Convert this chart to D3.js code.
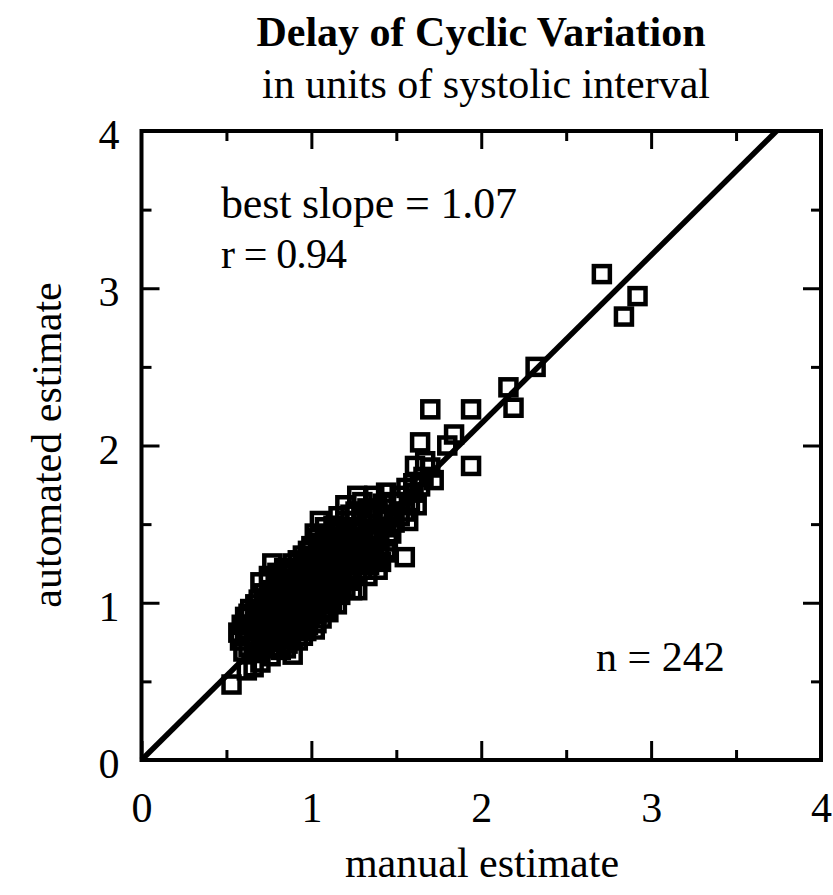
<!DOCTYPE html>
<html>
<head>
<meta charset="utf-8">
<script src="https://cdn.jsdelivr.net/npm/d3@7"></script>
<style>
  body { margin: 0; background: #fff; }
  text { font-family: "Liberation Serif", "Times New Roman", serif; fill: #000; }
</style>
</head>
<body>
<div id="chart"></div>
<script>
// tick values (both axes run 0..4)
const majorTicks = [0, 1, 2, 3, 4];
const minorTicks = [0.5, 1.5, 2.5, 3.5];

const bestSlope = 1.07;
const rValue = 0.94;
const nPoints = 242;

// [manual estimate, automated estimate]
// (the dense middle of the cloud is estimated)
const points = [
  [0.53, 0.48],
  [0.62, 0.57], [0.66, 0.59], [0.70, 0.62],
  [0.60, 0.69], [0.68, 0.68], [0.76, 0.66], [0.82, 0.70], [0.89, 0.67],
  [0.63, 0.72], [0.71, 0.71], [0.78, 0.72], [0.85, 0.71],
  [0.58, 0.76], [0.66, 0.74], [0.74, 0.75], [0.80, 0.77], [0.86, 0.74], [0.92, 0.76],
  [0.61, 0.79], [0.67, 0.78], [0.74, 0.79], [0.81, 0.80], [0.88, 0.79], [0.95, 0.79],
  [0.57, 0.81], [0.63, 0.83], [0.70, 0.80], [0.77, 0.83], [0.84, 0.81], [0.90, 0.84], [0.97, 0.82], [1.02, 0.83],
  [0.59, 0.86], [0.65, 0.86], [0.72, 0.85], [0.78, 0.87], [0.85, 0.86], [0.91, 0.87], [0.98, 0.86], [1.03, 0.87],
  [0.61, 0.91], [0.67, 0.88], [0.73, 0.90], [0.80, 0.89], [0.86, 0.91], [0.93, 0.88], [0.99, 0.91], [1.06, 0.90],
  [0.63, 0.93], [0.69, 0.92], [0.76, 0.93], [0.82, 0.93], [0.89, 0.94], [0.96, 0.92], [1.03, 0.93], [1.10, 0.94],
  [0.64, 0.96], [0.70, 0.95], [0.76, 0.98], [0.83, 0.96], [0.89, 0.98], [0.95, 0.95], [1.01, 0.97], [1.08, 0.96], [1.15, 0.99],
  [0.67, 0.99], [0.73, 1.00], [0.79, 1.00], [0.85, 0.99], [0.91, 1.00], [0.97, 0.99], [1.07, 0.99], [1.12, 1.00],
  [0.69, 1.02], [0.75, 1.04], [0.81, 1.02], [0.87, 1.05], [0.93, 1.02], [0.99, 1.04], [1.04, 1.01], [1.10, 1.03], [1.17, 1.05],
  [0.72, 1.06], [0.78, 1.06], [0.84, 1.07], [0.90, 1.06], [0.96, 1.05], [1.02, 1.07], [1.08, 1.06], [1.14, 1.07],
  [0.70, 1.13], [0.77, 1.08], [0.83, 1.10], [0.89, 1.12], [0.95, 1.08], [1.01, 1.11], [1.07, 1.09], [1.13, 1.11], [1.20, 1.09], [1.24, 1.08], [1.27, 1.08],
  [0.79, 1.13], [0.85, 1.13], [0.92, 1.14], [0.98, 1.13], [1.04, 1.14], [1.10, 1.13], [1.16, 1.13], [1.22, 1.14],
  [0.75, 1.17], [0.82, 1.15], [0.88, 1.18], [0.94, 1.16], [1.00, 1.18], [1.06, 1.15], [1.12, 1.17], [1.18, 1.15], [1.27, 1.19], [1.33, 1.17],
  [0.80, 1.19], [0.86, 1.20], [0.92, 1.20], [0.98, 1.21], [1.05, 1.19], [1.11, 1.20], [1.17, 1.19], [1.24, 1.21], [1.30, 1.21],
  [0.77, 1.25], [0.84, 1.22], [0.89, 1.25], [0.96, 1.23], [1.02, 1.21], [1.08, 1.24], [1.14, 1.22], [1.21, 1.25], [1.34, 1.24], [1.39, 1.21],
  [0.92, 1.27], [0.99, 1.26], [1.05, 1.27], [1.11, 1.26], [1.17, 1.27], [1.23, 1.26], [1.29, 1.25], [1.35, 1.27], [1.41, 1.26],
  [0.95, 1.30], [1.01, 1.28], [1.07, 1.31], [1.13, 1.29], [1.19, 1.32], [1.25, 1.29], [1.31, 1.31], [1.37, 1.28], [1.45, 1.32], [1.55, 1.29],
  [0.98, 1.33], [1.04, 1.34], [1.10, 1.32], [1.16, 1.33], [1.22, 1.32], [1.28, 1.34], [1.34, 1.33], [1.40, 1.32],
  [1.00, 1.36], [1.06, 1.38], [1.12, 1.35], [1.18, 1.37], [1.24, 1.35], [1.30, 1.38], [1.36, 1.36], [1.44, 1.34], [1.45, 1.39],
  [1.04, 1.41], [1.10, 1.40], [1.16, 1.41], [1.22, 1.40], [1.28, 1.41], [1.34, 1.40], [1.40, 1.41],
  [1.02, 1.44], [1.09, 1.42], [1.15, 1.45], [1.21, 1.43], [1.27, 1.46], [1.33, 1.43], [1.39, 1.45], [1.47, 1.44],
  [1.08, 1.48], [1.17, 1.47], [1.24, 1.48], [1.30, 1.47], [1.36, 1.46], [1.44, 1.48],
  [1.05, 1.52], [1.13, 1.49], [1.20, 1.52], [1.30, 1.52], [1.36, 1.50], [1.42, 1.53], [1.49, 1.51], [1.57, 1.52],
  [1.16, 1.55], [1.23, 1.56], [1.30, 1.55], [1.36, 1.55], [1.45, 1.56], [1.52, 1.55],
  [1.20, 1.62], [1.26, 1.58], [1.33, 1.60], [1.39, 1.57], [1.48, 1.64], [1.55, 1.58], [1.62, 1.62],
  [1.30, 1.64], [1.42, 1.63], [1.58, 1.64],
  [1.27, 1.68], [1.37, 1.68], [1.44, 1.70], [1.52, 1.68], [1.60, 1.70],
  [1.56, 1.73], [1.64, 1.74],
  [1.60, 1.76], [1.66, 1.80], [1.72, 1.78],
  [1.61, 1.87], [1.67, 1.90], [1.70, 1.86],
  [1.64, 2.02], [1.80, 2.00], [1.84, 2.07], [1.70, 2.23],
  [1.94, 1.87], [1.94, 2.23], [2.16, 2.37], [2.19, 2.24], [2.32, 2.50],
  [2.71, 3.09], [2.84, 2.82], [2.92, 2.95]
];

const width = 833;
const height = 895;

const svg = d3.select("#chart")
  .append("svg")
  .attr("width", width)
  .attr("height", height);

const x = d3.scaleLinear().domain([0, 4]).range([141.5, 821]);
const y = d3.scaleLinear().domain([0, 4]).range([760, 131]);

// titles
svg.append("text")
  .attr("x", 481)
  .attr("y", 46)
  .attr("text-anchor", "middle")
  .style("font-size", "42px")
  .style("font-weight", "bold")
  .text("Delay of Cyclic Variation");

svg.append("text")
  .attr("x", 486)
  .attr("y", 98)
  .attr("text-anchor", "middle")
  .style("font-size", "42px")
  .text("in units of systolic interval");

// axes: major ticks with labels, minor ticks without
const fontPx = "42px";

function styleAxis(g) {
  g.select(".domain").remove();
  g.selectAll(".tick line").attr("stroke", "#000").attr("stroke-width", 3);
  g.selectAll(".tick text").style("font-size", fontPx).attr("fill", "#000")
    .style("font-family", "'Liberation Serif', 'Times New Roman', serif");
}

svg.append("g")
  .attr("transform", `translate(0,${y(0)})`)
  .call(d3.axisBottom(x).tickValues(majorTicks).tickSize(-19).tickPadding(32).tickFormat(d3.format("d")))
  .call(styleAxis);

svg.append("g")
  .attr("transform", `translate(0,${y(0)})`)
  .call(d3.axisBottom(x).tickValues(minorTicks).tickSize(-10).tickFormat(""))
  .call(styleAxis);

svg.append("g")
  .attr("transform", `translate(${x(0)},0)`)
  .call(d3.axisLeft(y).tickValues(majorTicks).tickSize(-18).tickPadding(22).tickFormat(d3.format("d")))
  .call(styleAxis)
  .call(g => g.selectAll(".tick text").attr("dy", "0.42em"));

svg.append("g")
  .attr("transform", `translate(${x(0)},0)`)
  .call(d3.axisLeft(y).tickValues(minorTicks).tickSize(-10).tickFormat(""))
  .call(styleAxis);

svg.append("g")
  .attr("transform", `translate(0,${y(4)})`)
  .call(d3.axisTop(x).tickValues(majorTicks.slice(1, 4)).tickSize(-18).tickFormat(""))
  .call(styleAxis);

svg.append("g")
  .attr("transform", `translate(0,${y(4)})`)
  .call(d3.axisTop(x).tickValues(minorTicks).tickSize(-10).tickFormat(""))
  .call(styleAxis);

svg.append("g")
  .attr("transform", `translate(${x(4)},0)`)
  .call(d3.axisRight(y).tickValues(majorTicks.slice(1, 4)).tickSize(-18).tickFormat(""))
  .call(styleAxis);

svg.append("g")
  .attr("transform", `translate(${x(4)},0)`)
  .call(d3.axisRight(y).tickValues(minorTicks).tickSize(-10).tickFormat(""))
  .call(styleAxis);

// frame
svg.append("rect")
  .attr("x", x(0))
  .attr("y", y(4))
  .attr("width", x(4) - x(0))
  .attr("height", y(0) - y(4))
  .attr("fill", "none")
  .attr("stroke", "#000")
  .attr("stroke-width", 4);

// points: open squares
const side = 16;
svg.append("g")
  .selectAll("rect")
  .data(points)
  .enter()
  .append("rect")
  .attr("x", d => x(d[0]) - side / 2)
  .attr("y", d => y(d[1]) - side / 2)
  .attr("width", side)
  .attr("height", side)
  .attr("fill", "none")
  .attr("stroke", "#000")
  .attr("stroke-width", 4.5);

// best-fit line through the origin
const line = d3.line().x(d => x(d)).y(d => y(bestSlope * d));
svg.append("path")
  .datum([0, 4 / bestSlope])
  .attr("d", line)
  .attr("fill", "none")
  .attr("stroke", "#000")
  .attr("stroke-width", 5.5);

// annotations
svg.append("text")
  .attr("x", 221)
  .attr("y", 218)
  .style("font-size", "44px")
  .attr("textLength", 296)
  .attr("lengthAdjust", "spacing")
  .text(`best slope = ${bestSlope.toFixed(2)}`);

svg.append("text")
  .attr("x", 221)
  .attr("y", 268)
  .style("font-size", "42px")
  .attr("textLength", 126)
  .attr("lengthAdjust", "spacing")
  .text(`r = ${rValue.toFixed(2)}`);

svg.append("text")
  .attr("x", 596)
  .attr("y", 671)
  .style("font-size", "42px")
  .text(`n = ${nPoints}`);

// axis titles
svg.append("text")
  .attr("x", 482)
  .attr("y", 877)
  .attr("text-anchor", "middle")
  .style("font-size", "42px")
  .text("manual estimate");

svg.append("text")
  .attr("transform", "translate(61,445) rotate(-90)")
  .attr("text-anchor", "middle")
  .style("font-size", "42px")
  .text("automated estimate");
</script>
</body>
</html>
